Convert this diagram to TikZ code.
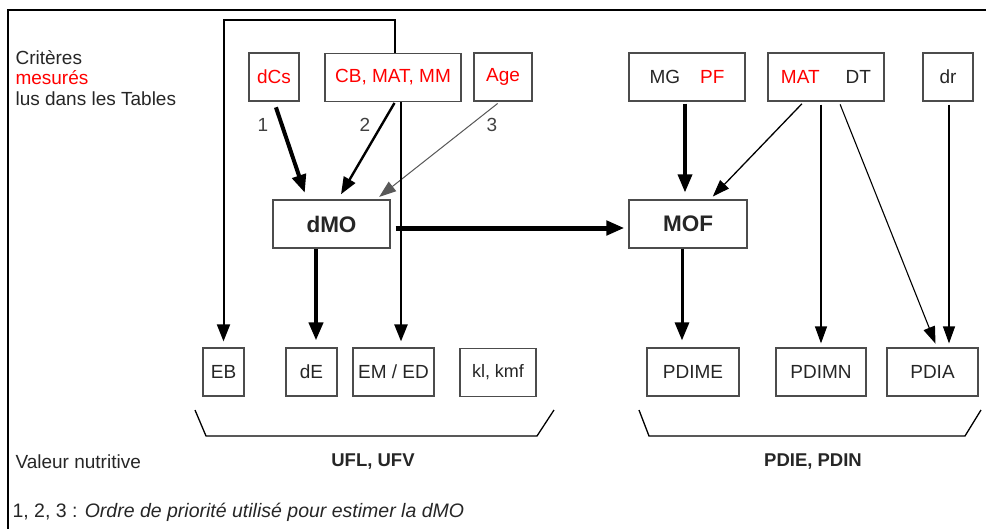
\documentclass[tikz,border=0pt]{standalone}
\usepackage{fontspec}
\setmainfont{Liberation Sans}
\usetikzlibrary{arrows.meta}

\begin{document}
\begin{tikzpicture}[x=1pt, y=-1pt,
    every node/.style={text=black!85, font=\fontsize{19}{21}\selectfont},
    crit/.style={draw=black!70, line width=1.2pt, minimum height=48pt, inner sep=0pt},
    big/.style={crit, font=\fontsize{22.5}{24}\selectfont\bfseries},
    fat/.style={line width=4pt, -{Triangle[length=18pt,width=14pt]}, shorten <=6pt, shorten >=7pt},
    mid/.style={line width=2.4pt, -{Triangle[length=17pt,width=13pt]}, shorten <=2pt, shorten >=6pt},
    fine/.style={line width=1.3pt, -{Triangle[length=17pt,width=12pt]}, shorten <=3pt, shorten >=4pt}]
      \useasboundingbox (0,0) rectangle (986,528);
      \draw[line width=2pt] (8,530) -- (8,10) -- (988,10);
      % criteres
      \node[anchor=west] (t1) at (12,58) {Critères};
      \node[anchor=west, text=red] (t2) at (12,78) {mesurés};
      \node[anchor=west] (t3) at (12,99) {lus dans les Tables};
      \node[crit, minimum width=50pt, text=red] (dcs) at (274,77) {dCs};
      \node[crit, minimum width=136pt, text=red] (cbmat) at (393,77.5) {CB, MAT, MM};
      \node[crit, minimum width=58pt, text=red] (age) at (503,77) {Age};
      \node[crit, minimum width=116pt] (mgpf) at (687,77) {MG\hspace{20pt}\textcolor{red}{PF}};
      \node[crit, minimum width=116pt] (matdt) at (826,77) {\textcolor{red}{MAT}\hspace{26pt}DT};
      \node[crit, minimum width=50pt] (dr) at (948,77) {dr};
      % milieu
      \node[big, minimum width=117pt] (dmo) at (331.5,224) {dMO};
      \node[big, minimum width=118pt] (mof) at (688,224) {MOF};
      % valeurs
      \node[crit, minimum width=41pt] (eb) at (223.5,372) {EB};
      \node[crit, minimum width=51pt] (de) at (311.5,372) {dE};
      \node[crit, minimum width=81pt] (emed) at (393.5,372) {EM / ED};
      \node[crit, minimum width=76pt, font=\fontsize{18}{20}\selectfont] (klkmf) at (498,372.5) {kl, kmf};
      \node[crit, minimum width=92pt] (pdime) at (693,372) {PDIME};
      \node[crit, minimum width=90pt] (pdimn) at (821,372) {PDIMN};
      \node[crit, minimum width=91pt] (pdia) at (932.5,372) {PDIA};
      % ordre
      \node[text=black!75] (n1) at (263,125) {1};
      \node[text=black!75] (n2) at (365,125) {2};
      \node[text=black!75] (n3) at (492,125) {3};
      \draw[fat] (dcs.south) -- ([xshift=-24.5pt]dmo.north);
      \draw[mid, shorten <=1pt] ([xshift=2pt]cbmat.south) -- ([xshift=6.5pt]dmo.north);
      \draw[fine, line width=1pt, draw=black!65, fill=black!65] ([xshift=-3pt]age.south) -- ([xshift=44.5pt]dmo.north);
      \draw[mid, line width=2pt, shorten <=0pt] ([xshift=2pt]cbmat.north) -- ++(0,-33) -| (eb.north);
      \draw[mid, shorten <=0pt] ([xshift=8pt]cbmat.south) -- ([xshift=7.5pt]emed.north);
      \draw[fat, line width=5pt, shorten <=5pt, shorten >=4pt] ([yshift=-4pt]dmo.east) -- ([yshift=-4pt]mof.west);
      \draw[fat, shorten <=0pt] ([xshift=-15.5pt]dmo.south) -- ([xshift=4.5pt]de.north);
      \draw[fat, line width=3.5pt, shorten <=2pt] ([xshift=-2pt]mgpf.south) -- ([xshift=-3pt]mof.north);
      \draw[fine] ([xshift=-22pt]matdt.south) -- ([xshift=22pt]mof.north);
      \draw[fine] ([xshift=-5pt]matdt.south) -- (pdimn.north);
      \draw[fine, line width=1.1pt] ([xshift=13pt]matdt.south) -- ([xshift=4.5pt]pdia.north);
      \draw[fine] ([xshift=1pt]dr.south) -- ([xshift=16.5pt]pdia.north);
      \draw[fat, line width=3pt, shorten <=0pt] ([xshift=-6pt]mof.south) -- ([xshift=-11pt]pdime.north);
      % accolades
      \draw[line width=1.3pt] (195,410) -- (206,436) -- (537,436) -- (554,410);
      \draw[line width=1.3pt] (639,410) -- (649,436) -- (965,436) -- (981,410);
      \node[anchor=west] (val) at (12,462) {Valeur nutritive};
      \node[font=\fontsize{18.5}{20}\selectfont\bfseries] (ufl) at (373,462) {UFL, UFV};
      \node[font=\fontsize{18.5}{20}\selectfont\bfseries] (pdie) at (813,462) {PDIE, PDIN};
      \node[anchor=west, font=\fontsize{19.5}{21}\selectfont] (note) at (9,512) {1, 2, 3 : \textit{Ordre de priorité utilisé pour estimer la dMO}};
    \end{tikzpicture}
\end{document}
